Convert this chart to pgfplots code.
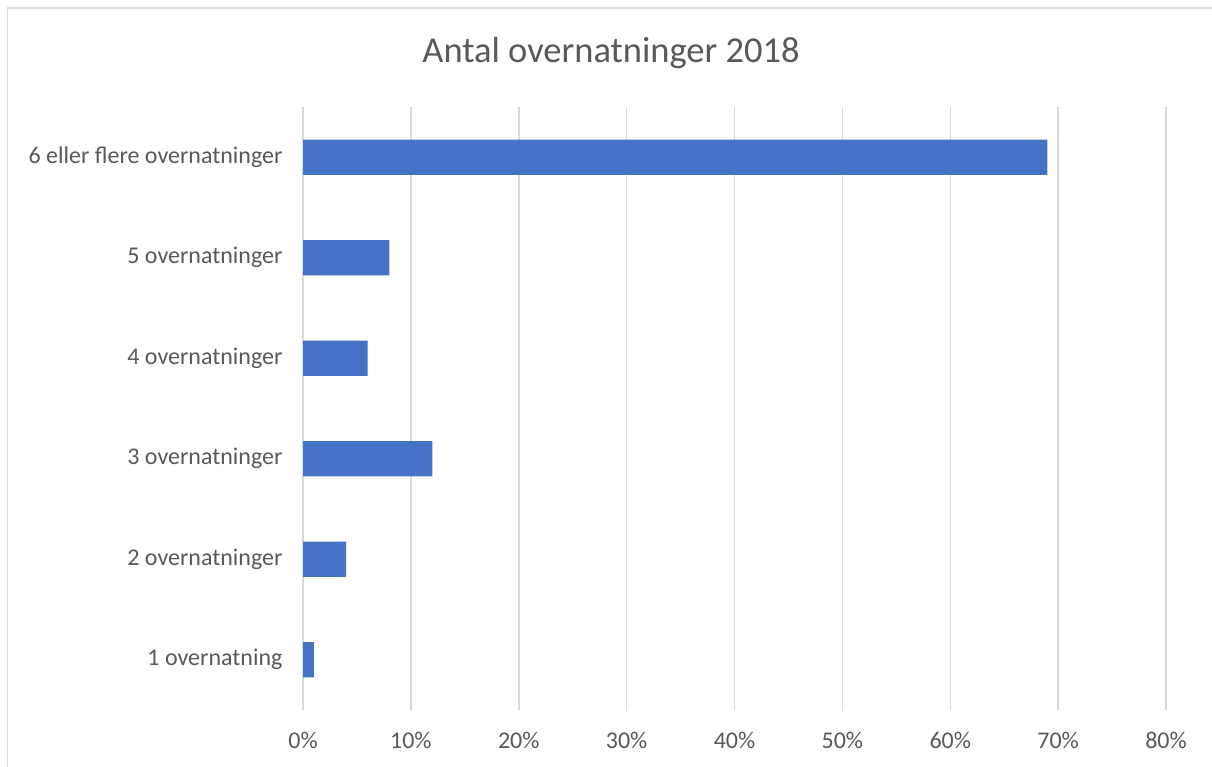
\documentclass[border=0pt]{standalone}
\usepackage{fontspec}
\setmainfont{Carlito}
\usepackage{pgfplots}
\pgfplotsset{compat=1.18}
\definecolor{barblue}{HTML}{4472C4}
\definecolor{txtgray}{HTML}{595959}
\definecolor{gridgray}{HTML}{D9D9D9}
\begin{document}
\begin{tikzpicture}
\useasboundingbox (0bp,0bp) rectangle (1212bp,767bp);
\draw[gridgray, line width=1.5bp] (7.5bp,0bp) -- (7.5bp,759bp) -- (1212bp,759bp);
\node[txtgray, font=\fontsize{36.5bp}{42bp}\selectfont] at (611bp,714bp) {Antal overnatninger 2018};
\begin{axis}[
  at={(303bp,57bp)}, anchor=south west,
  scale only axis, width=863bp, height=603bp,
  xbar, bar width=0.35,
  xmin=0, xmax=80, ymin=-0.5, ymax=5.5,
  xtick={0,10,...,80},
  xticklabel={\pgfmathprintnumber{\tick}\%},
  ytick={0,1,2,3,4,5},
  yticklabels={1 overnatning,2 overnatninger,3 overnatninger,4 overnatninger,5 overnatninger,6 eller flere overnatninger},
  axis line style={draw=none},
  major tick length=0pt,
  xmajorgrids, grid style={gridgray, line width=1.5bp},
  tick label style={txtgray, font=\fontsize{24bp}{28bp}\selectfont},
  /pgf/number format/assume math mode=true,
  xticklabel style={yshift=-19bp},
  yticklabel style={xshift=-17bp},
]
\addplot[fill=barblue, draw=none] coordinates {(1,0) (4,1) (12,2) (6,3) (8,4) (69,5)};
\end{axis}
\end{tikzpicture}
\end{document}
